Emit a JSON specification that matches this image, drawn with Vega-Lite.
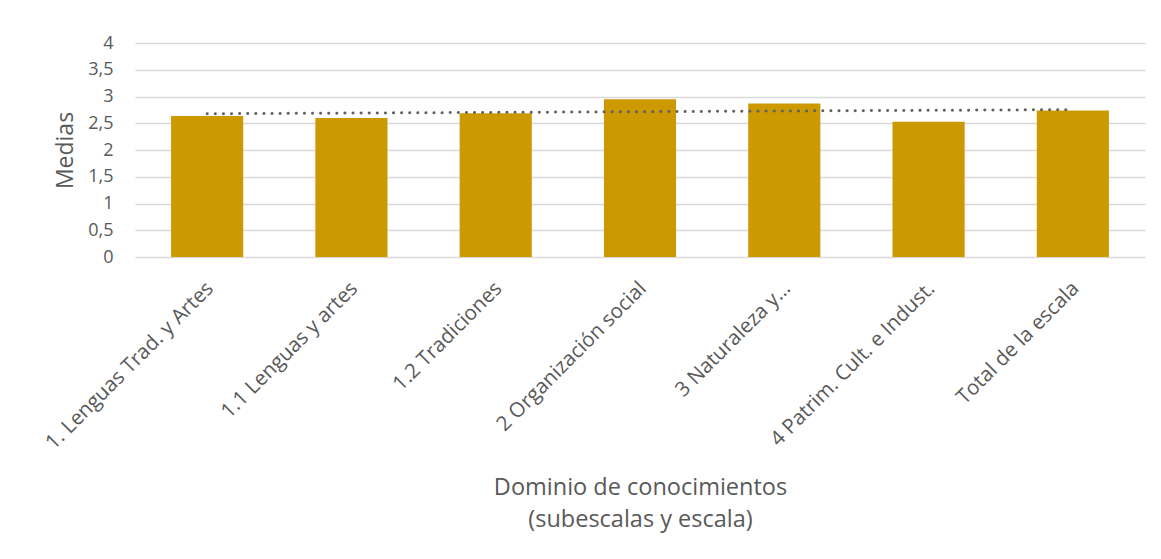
{
  "$schema": "https://vega.github.io/schema/vega-lite/v6.json",
  "width": 1010,
  "height": 214,
  "autosize": {"type": "none"},
  "padding": {"left": 135, "top": 43, "right": 16, "bottom": 302},
  "background": "white",
  "datasets": {
    "medias": [
      {"idx": 1, "dominio": "1. Lenguas Trad. y Artes", "media": 2.635},
      {"idx": 2, "dominio": "1.1 Lenguas y artes", "media": 2.6},
      {"idx": 3, "dominio": "1.2 Tradiciones", "media": 2.686},
      {"idx": 4, "dominio": "2 Organización social", "media": 2.95},
      {"idx": 5, "dominio": "3 Naturaleza y…", "media": 2.87},
      {"idx": 6, "dominio": "4 Patrim. Cult. e Indust.", "media": 2.53},
      {"idx": 7, "dominio": "Total de la escala", "media": 2.74}
    ]
  },
  "data": {"name": "medias"},
  "config": {
    "font": "Open Sans",
    "view": {"stroke": null},
    "axis": {
      "labelFont": "Open Sans",
      "titleFont": "Open Sans",
      "labelColor": "#595959",
      "titleColor": "#595959",
      "titleFontWeight": "normal",
      "ticks": false,
      "domain": false
    }
  },
  "encoding": {
    "x": {
      "field": "dominio",
      "type": "nominal",
      "sort": null,
      "scale": {
        "domain": ["1. Lenguas Trad. y Artes", "1.1 Lenguas y artes", "1.2 Tradiciones", "2 Organización social", "3 Naturaleza y…", "4 Patrim. Cult. e Indust.", "Total de la escala"],
        "paddingInner": 0.5,
        "paddingOuter": 0.25
      },
      "axis": {
        "labelAngle": -45,
        "labelFontSize": 20.5,
        "labelPadding": 21,
        "labelOffset": -4,
        "labelLimit": 400,
        "labelOverlap": false,
        "grid": false,
        "title": ["Dominio de conocimientos", "(subescalas y escala)"],
        "titleFontSize": 23.5,
        "titleLineHeight": 32,
        "titlePadding": 22
      }
    },
    "y": {
      "field": "media",
      "type": "quantitative",
      "scale": {"domain": [0, 4], "nice": false},
      "axis": {
        "values": [0, 0.5, 1, 1.5, 2, 2.5, 3, 3.5, 4],
        "labelExpr": "replace(format(datum.value, '~g'), '.', ',')",
        "labelOverlap": false,
        "labelFontSize": 18,
        "labelPadding": 22,
        "grid": true,
        "gridColor": "#d9d9d9",
        "gridWidth": 1.3,
        "title": "Medias",
        "titleFontSize": 23,
        "titlePadding": 10
      }
    }
  },
  "layer": [
    {
      "mark": {"type": "bar", "color": "#CC9900"}
    },
    {
      "transform": [
        {"regression": "media", "on": "idx"},
        {"lookup": "idx", "from": {"data": {"name": "medias"}, "key": "idx", "fields": ["dominio"]}}
      ],
      "mark": {"type": "line", "color": "#5f5f5f", "strokeWidth": 3, "strokeDash": [0.1, 8], "strokeCap": "round"}
    }
  ]
}
